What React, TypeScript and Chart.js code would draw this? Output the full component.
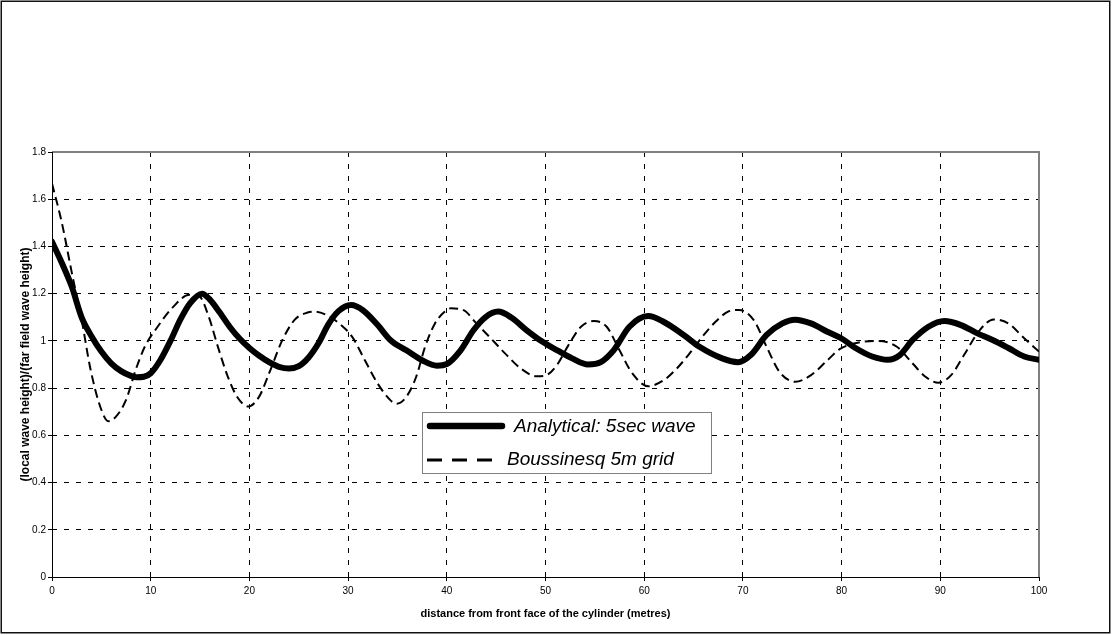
import React, { useEffect, useRef } from "react";
import { Chart, registerables } from "chart.js";
Chart.register(...registerables);

const seriesNames = ["Analytical: 5sec wave", "Boussinesq 5m grid"];
const xTitle = "distance from front face of the cylinder (metres)";
const yTitle = "(local wave height)/(far field wave height)";

const xTicks = [0, 10, 20, 30, 40, 50, 60, 70, 80, 90, 100];
const yTicks = [0, 0.2, 0.4, 0.6, 0.8, 1, 1.2, 1.4, 1.6, 1.8];

const analyticalX = [0, 1, 2, 3, 4, 5, 6, 7, 8, 8.6, 9.3, 10, 11, 12, 13, 14, 15.2, 16, 17, 18, 19, 20, 21, 22, 23, 24, 25, 26, 27, 28, 29, 30.3, 31.5, 33, 34.3, 35.9, 37.5, 39, 40, 41.4, 42.7, 43.9, 45.2, 46.5, 48.1, 49.7, 51.2, 52.7, 54.3, 55.6, 56.9, 58.5, 60.4, 62, 64, 65.6, 67.9, 69.5, 70.8, 72.4, 74, 75.3, 76.9, 78.5, 80, 81.4, 83.1, 84.7, 85.9, 87.2, 88.8, 90.4, 92.1, 93.7, 95.3, 96.9, 98.5, 100];
const analyticalY = [1.42, 1.33, 1.23, 1.1, 1.02, 0.955, 0.905, 0.872, 0.852, 0.846, 0.848, 0.863, 0.92, 1.0, 1.09, 1.16, 1.2, 1.175, 1.12, 1.06, 1.01, 0.97, 0.937, 0.91, 0.89, 0.883, 0.893, 0.93, 0.99, 1.07, 1.125, 1.152, 1.13, 1.067, 1.003, 0.96, 0.918, 0.895, 0.902, 0.96, 1.045, 1.1, 1.124, 1.1, 1.045, 0.996, 0.96, 0.926, 0.9, 0.91, 0.96, 1.06, 1.105, 1.08, 1.025, 0.975, 0.926, 0.91, 0.94, 1.025, 1.074, 1.09, 1.074, 1.04, 1.01, 0.97, 0.934, 0.92, 0.94, 1.004, 1.06, 1.084, 1.067, 1.033, 1.004, 0.97, 0.934, 0.92];

const boussinesqX = [0, 1, 2, 3, 3.9, 4.9, 5.7, 6.5, 7.5, 8.5, 9.4, 10.7, 12.3, 13.9, 14.9, 15.9, 16.8, 17.8, 18.8, 19.9, 21, 22, 23.3, 24.6, 25.9, 26.6, 27.8, 29.1, 30.4, 31.7, 33, 34.3, 34.9, 35.9, 36.9, 37.8, 38.8, 39.8, 40.4, 41.7, 43, 44.3, 45.9, 47.5, 49.1, 50.1, 51.2, 52.3, 53.6, 54.9, 56.2, 57.5, 58.8, 60.4, 62, 63.3, 64.6, 65.9, 67.2, 68.5, 69.6, 71.1, 72.4, 73.7, 75.3, 76.9, 78.5, 79.8, 81.4, 83.7, 85.6, 87.2, 88.5, 89.8, 91.1, 92.4, 94, 95.4, 96.9, 98.5, 100];
const boussinesqY = [1.667, 1.5, 1.29, 1.09, 0.88, 0.72, 0.66, 0.68, 0.75, 0.88, 0.975, 1.06, 1.145, 1.195, 1.19, 1.1, 0.976, 0.85, 0.76, 0.722, 0.765, 0.863, 1.0, 1.09, 1.12, 1.124, 1.11, 1.074, 1.018, 0.918, 0.819, 0.748, 0.734, 0.763, 0.848, 0.975, 1.074, 1.124, 1.138, 1.13, 1.074, 1.018, 0.947, 0.883, 0.85, 0.855, 0.9, 0.98, 1.06, 1.084, 1.06, 0.96, 0.862, 0.808, 0.834, 0.883, 0.947, 1.018, 1.08, 1.124, 1.131, 1.088, 0.975, 0.869, 0.827, 0.855, 0.915, 0.965, 0.99, 1.0, 0.975, 0.904, 0.848, 0.823, 0.855, 0.94, 1.046, 1.091, 1.074, 1.011, 0.955];

const FONT = "'Liberation Sans', Arial, sans-serif";

const decor = {
  id: "decor",
  beforeDatasetsDraw(chart: any) {
    const { ctx, chartArea: a } = chart;
    ctx.save();
    ctx.strokeStyle = "#808080";
    ctx.lineWidth = 2;
    ctx.beginPath();
    ctx.moveTo(a.left, a.top);
    ctx.lineTo(a.right, a.top);
    ctx.lineTo(a.right, a.bottom);
    ctx.stroke();
    ctx.strokeStyle = "#000";
    ctx.lineWidth = 1;
    ctx.beginPath();
    ctx.moveTo(a.left + 0.5, a.top);
    ctx.lineTo(a.left + 0.5, a.bottom + 0.5);
    ctx.lineTo(a.right, a.bottom + 0.5);
    ctx.stroke();
    ctx.restore();
  },
  afterDatasetsDraw(chart: any) {
    const { ctx } = chart;
    ctx.save();
    ctx.fillStyle = "#fff";
    ctx.fillRect(422, 412, 289, 61);
    ctx.strokeStyle = "#808080";
    ctx.lineWidth = 1;
    ctx.strokeRect(422.5, 412.5, 289, 61);
    ctx.strokeStyle = "#000";
    ctx.lineCap = "round";
    ctx.lineWidth = 6.5;
    ctx.beginPath();
    ctx.moveTo(430, 426);
    ctx.lineTo(502, 426);
    ctx.stroke();
    ctx.lineCap = "butt";
    ctx.lineWidth = 3;
    ctx.setLineDash([15, 10]);
    ctx.beginPath();
    ctx.moveTo(427, 460);
    ctx.lineTo(492, 460);
    ctx.stroke();
    ctx.setLineDash([]);
    ctx.fillStyle = "#000";
    ctx.font = `italic 19px ${FONT}`;
    ctx.textBaseline = "middle";
    ctx.textAlign = "left";
    ctx.fillText(seriesNames[0], 514, 427);
    ctx.fillText(seriesNames[1], 507, 460);
    ctx.restore();
  },
  afterDraw(chart: any) {
    const { ctx } = chart;
    ctx.save();
    ctx.strokeStyle = "#111";
    ctx.lineWidth = 1.5;
    ctx.strokeRect(1.25, 1.25, 1108.5, 631.5);
    ctx.restore();
  },
};

export default function App() {
  const ref = useRef<HTMLCanvasElement | null>(null);
  useEffect(() => {
    document.body.style.margin = "0";
    const canvas = ref.current!;
    const chart = new Chart(canvas, {
      type: "line",
      data: {
        datasets: [
          {
            label: seriesNames[0],
            data: analyticalX.map((x, i) => ({ x, y: analyticalY[i] })),
            borderColor: "#000",
            borderWidth: 6,
            pointRadius: 0,
            fill: false,
            cubicInterpolationMode: "monotone",
            borderCapStyle: "round",
            borderJoinStyle: "round",
          },
          {
            label: seriesNames[1],
            data: boussinesqX.map((x, i) => ({ x, y: boussinesqY[i] })),
            borderColor: "#000",
            borderWidth: 2,
            borderDash: [9, 5],
            pointRadius: 0,
            fill: false,
            cubicInterpolationMode: "monotone",
          },
        ],
      } as any,
      options: {
        animation: false,
        responsive: false,
        events: [],
        layout: { padding: { left: 0, top: 152, right: 73, bottom: 0 } },
        plugins: { legend: { display: false }, tooltip: { enabled: false } },
        scales: {
          x: {
            type: "linear",
            min: 0,
            max: 100,
            afterBuildTicks: (s: any) => {
              s.ticks = xTicks.map((v) => ({ value: v }));
            },
            afterFit: (s: any) => {
              s.height = 58;
            },
            ticks: {
              color: "#000",
              font: { family: FONT, size: 10 },
              padding: 4,
              maxRotation: 0,
              autoSkip: false,
              callback: (v: any) => String(v),
            },
            grid: { color: "#000", lineWidth: 1, tickLength: 4, tickColor: "#000", tickBorderDash: [] },
            border: { display: false, dash: [5, 7] },
            title: {
              display: true,
              text: xTitle,
              color: "#000",
              font: { family: FONT, size: 11, weight: "bold" },
              padding: { top: 0, bottom: 14 },
            },
          },
          y: {
            type: "linear",
            min: 0,
            max: 1.8,
            afterBuildTicks: (s: any) => {
              s.ticks = yTicks.map((v) => ({ value: v }));
            },
            afterFit: (s: any) => {
              s.width = 52;
            },
            ticks: {
              color: "#000",
              font: { family: FONT, size: 10 },
              padding: 2,
              autoSkip: false,
              callback: (v: any) => String(v),
            },
            grid: { color: "#000", lineWidth: 1, tickLength: 4, tickColor: "#000", tickBorderDash: [] },
            border: { display: false, dash: [5, 7] },
            title: {
              display: true,
              text: yTitle,
              color: "#000",
              font: { family: FONT, size: 12, weight: "bold" },
              padding: { top: 18, bottom: 0 },
            },
          },
        },
      } as any,
      plugins: [decor],
    });
    return () => chart.destroy();
  }, []);
  return <canvas ref={ref} width={1112} height={635} style={{ display: "block" }} />;
}
